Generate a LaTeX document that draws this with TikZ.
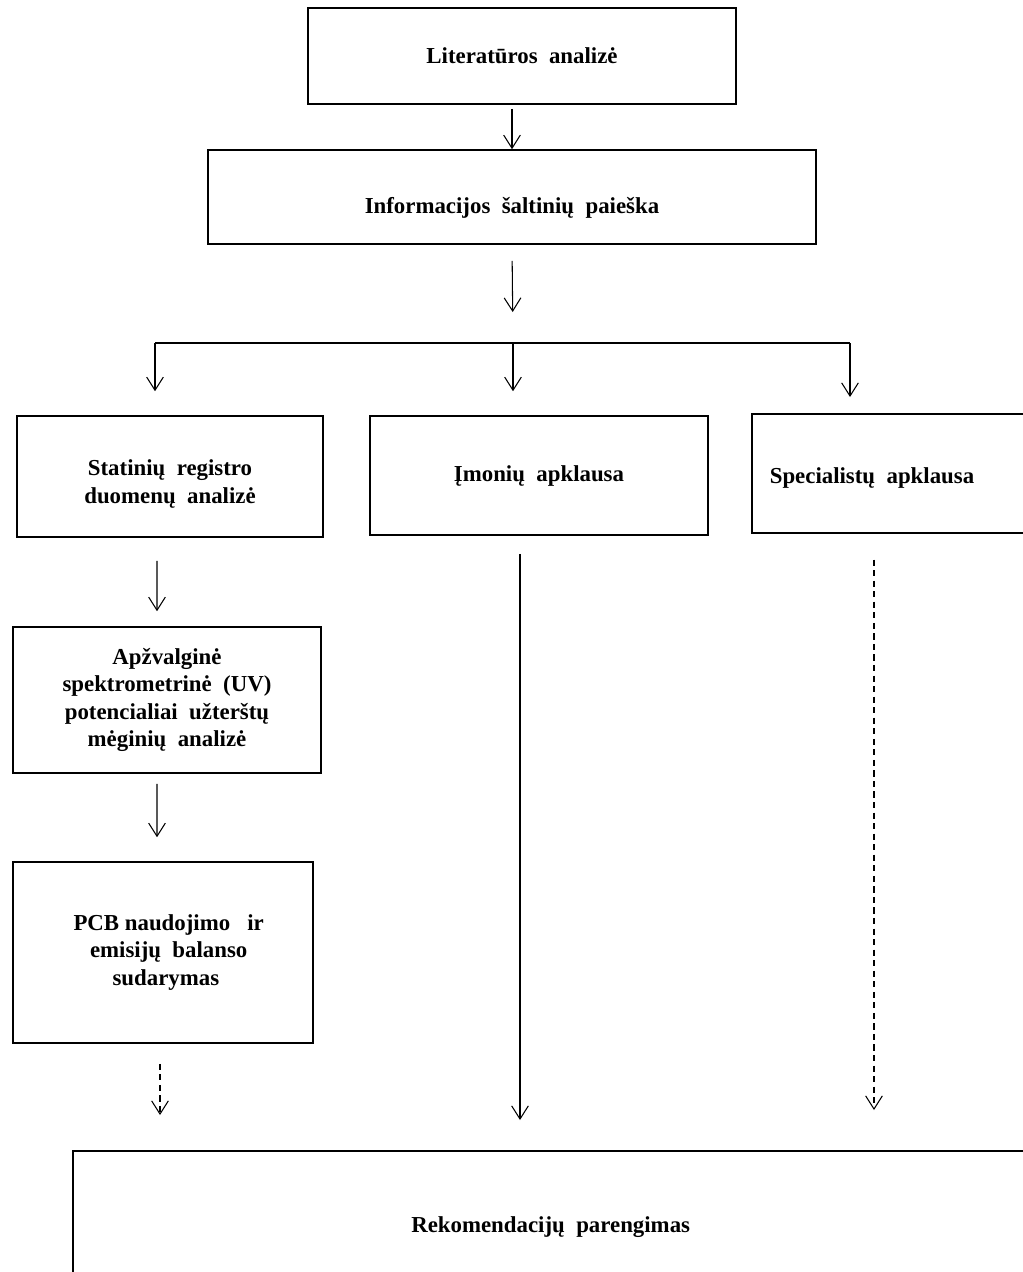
\documentclass[tikz,border=0pt]{standalone}
\usepackage{fontspec}
\setmainfont{Liberation Serif}
\usetikzlibrary{arrows.meta, positioning}

\begin{document}
\begin{tikzpicture}[
  x=0.02cm, y=-0.02cm,
  box/.style  = {draw, line width=0.9pt, align=center, inner sep=2pt,
                 font=\fontsize{13}{15.5}\selectfont\bfseries},
  txt/.style  = {align=center, font=\fontsize{13}{15.5}\selectfont\bfseries},
  arr/.style  = {-{Straight Barb[length=7.5pt, width=9.5pt]}, line width=0.6pt},
  darr/.style = {arr, dash pattern=on 3.5pt off 2.5pt}
]
\useasboundingbox (0,0) rectangle (1023,1272);

%% ---- top ----
\node[box, minimum width=8.56cm, minimum height=1.92cm] (lit) at (522,56)
  {Literatūros\ \ analizė};
\node[box, minimum width=12.16cm, minimum height=1.88cm, text height=0.75cm] (info) at (512,197)
  {Informacijos\ \ šaltinių\ \ paieška};

%% ---- three branches ----
\node[box, minimum width=6.12cm, minimum height=2.42cm] (stat) at (170,476.5)
  {\rule{0pt}{0.62cm}Statinių\ \ registro\\ duomenų\ \ analizė};
\node[box, minimum width=6.76cm, minimum height=2.38cm] (imon) at (539,475.5)
  {Įmonių\ \ apklausa};
\node[box, anchor=north west, minimum width=6.2cm, minimum height=2.38cm] (spec) at (751,413) {};
\node[txt] (spectext) at (872,478) {Specialistų\ \ apklausa};

%% ---- left column ----
\node[box, minimum width=6.16cm, minimum height=2.92cm] (apz) at (167,700)
  {Apžvalginė\\ spektrometrinė\ \ (UV)\\ potencialiai\ \ užterštų\\ mėginių\ \ analizė};
\node[box, minimum width=6.0cm, minimum height=3.62cm] (pcb) at (163,952.5)
  {\ \ PCB naudojimo\ \ \ ir\\ \ \ emisijų\ \ balanso\\ \ sudarymas};

%% ---- bottom ----
\node[box, anchor=north west, minimum width=19.12cm, minimum height=3.04cm] (rek) at (72,1150)
  {Rekomendacijų\ \ parengimas};

% fork
\coordinate (fork)  at (513,343);
\coordinate (forkL) at (155,343);
\coordinate (forkR) at (850,343);

% arrows
\draw[arr, shorten <=0.08cm] (lit.south -| info.north) -- (info.north);
\draw[arr, shorten <=0.32cm, shorten >=0.62cm] (info.south) -- (fork);
\draw[line width=0.7pt] (forkL) -- (forkR);
\draw[arr, shorten >=0.48cm] (forkL) -- (forkL |- stat.north);
\draw[arr, shorten >=0.48cm] (fork) -- (fork |- imon.north);
\draw[arr, shorten >=0.32cm] (forkR) -- (forkR |- spec.north);

\draw[arr, shorten <=0.46cm, shorten >=0.3cm] ([xshift=-0.26cm]stat.south) -- ([xshift=-0.2cm]apz.north);
\draw[arr, shorten <=0.2cm, shorten >=0.48cm] ([xshift=-0.2cm]apz.south) -- ([xshift=-0.12cm]pcb.north);
\draw[darr, shorten <=0.4cm, shorten >=0.7cm] ([xshift=-0.06cm]pcb.south) -- ([xshift=-0.06cm]pcb.south |- rek.north);
\draw[arr, shorten <=0.36cm, shorten >=0.6cm] ([xshift=-0.38cm]imon.south) -- ([xshift=-0.38cm]imon.south |- rek.north);
\draw[darr, shorten <=0.52cm, shorten >=0.8cm] ([xshift=0.04cm]spectext |- spec.south) -- ([xshift=0.04cm]spectext |- rek.north);
\end{tikzpicture}
\end{document}
